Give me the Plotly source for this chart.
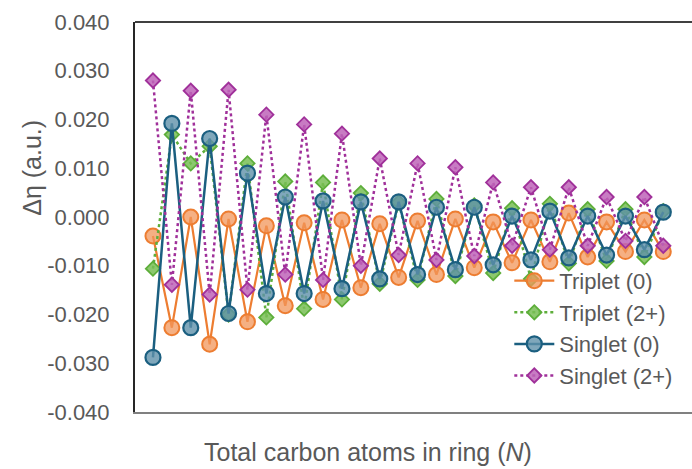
import plotly.graph_objects as go

# ---- data ----
n_atoms = list(range(3, 31))  # 28 ring sizes (x-axis has no tick labels)

triplet0 = [-0.0039, -0.0227, 0.0000, -0.0261, -0.0004, -0.0215, -0.0018, -0.0182,
            -0.0012, -0.0169, -0.0006, -0.0145, -0.0014, -0.0124, -0.0008, -0.0118,
            -0.0004, -0.0104, -0.0010, -0.0094, -0.0006, -0.0092, 0.0008, -0.0082,
            -0.0010, -0.0071, -0.0006, -0.0071]
triplet2 = [-0.0106, 0.0169, 0.0110, 0.0145, -0.0200, 0.0110, -0.0206, 0.0073,
            -0.0188, 0.0071, -0.0169, 0.0049, -0.0137, 0.0030, -0.0129, 0.0037,
            -0.0121, 0.0024, -0.0115, 0.0018, -0.0127, 0.0027, -0.0095, 0.0016,
            -0.0090, 0.0016, -0.0082, 0.0012]
singlet0 = [-0.0288, 0.0192, -0.0227, 0.0161, -0.0198, 0.0090, -0.0157, 0.0041,
            -0.0157, 0.0033, -0.0147, 0.0031, -0.0127, 0.0031, -0.0118, 0.0020,
            -0.0108, 0.0020, -0.0098, 0.0002, -0.0088, 0.0012, -0.0084, 0.0002,
            -0.0078, 0.0002, -0.0067, 0.0010]
singlet2 = [0.0280, -0.0139, 0.0259, -0.0159, 0.0261, -0.0149, 0.0210, -0.0118,
            0.0190, -0.0129, 0.0171, -0.0100, 0.0120, -0.0078, 0.0110, -0.0088,
            0.0102, -0.0080, 0.0071, -0.0059, 0.0061, -0.0067, 0.0061, -0.0059,
            0.0041, -0.0049, 0.0041, -0.0059]

series_names = ["Triplet (0)", "Triplet (2+)", "Singlet (0)", "Singlet (2+)"]
y_tick_vals = [0.04, 0.03, 0.02, 0.01, 0.0, -0.01, -0.02, -0.03, -0.04]
y_tick_text = ["0.040", "0.030", "0.020", "0.010", "0.000",
               "-0.010", "-0.020", "-0.030", "-0.040"]

TEXT = "#595959"
FONT = "Liberation Sans, Arial, sans-serif"

styles = [
    dict(line=dict(color="#ED7D31", width=2.2),
         marker=dict(symbol="circle", size=15, color="rgba(242,150,90,0.75)",
                     line=dict(color="#ED7D31", width=2))),
    dict(line=dict(color="#5DAE3A", width=2.5, dash="dot"),
         marker=dict(symbol="diamond", size=11, color="rgba(120,190,85,0.85)",
                     line=dict(color="#5DAE3A", width=1.8))),
    dict(line=dict(color="#1B5F80", width=2.5),
         marker=dict(symbol="circle", size=15, color="rgba(95,145,170,0.8)",
                     line=dict(color="#1B5F80", width=2.2))),
    dict(line=dict(color="#A0309A", width=2.5, dash="dot"),
         marker=dict(symbol="diamond", size=11, color="rgba(190,100,185,0.85)",
                     line=dict(color="#A0309A", width=1.8))),
]

fig = go.Figure()
for name, vals, st in zip(series_names, [triplet0, triplet2, singlet0, singlet2], styles):
    fig.add_trace(go.Scatter(x=n_atoms, y=vals, mode="lines+markers", name=name,
                             line=st["line"], marker=st["marker"]))

fig.update_layout(
    width=692, height=469,
    margin=dict(l=135, r=0, t=22, b=57),
    paper_bgcolor="white", plot_bgcolor="white",
    font=dict(family=FONT, color=TEXT, size=22),
    showlegend=True,
    legend=dict(x=0.672, y=0.39, xanchor="left", yanchor="top",
                bgcolor="rgba(0,0,0,0)", font=dict(size=22, color=TEXT),
                itemwidth=40),
    xaxis=dict(range=[2.05, 31.52], showticklabels=False, ticks="",
               showgrid=False, zeroline=False,
               showline=True, linecolor="#808080", linewidth=1.5),
    yaxis=dict(range=[-0.04, 0.04], tickvals=y_tick_vals, ticktext=y_tick_text,
               ticks="outside", ticklen=19, tickcolor="rgba(0,0,0,0)",
               showgrid=False, zeroline=False,
               showline=True, linecolor="#262626", linewidth=2,
               tickfont=dict(size=22, color=TEXT)),
    shapes=[dict(type="line", xref="paper", yref="paper", x0=0, x1=1, y0=1, y1=1,
                 line=dict(color="black", width=1.5))],
    annotations=[
        dict(text="Total carbon atoms in ring (<i>N</i>)", xref="paper", yref="paper",
             x=0.418, y=-0.103, xanchor="center", yanchor="middle", showarrow=False,
             font=dict(size=25, color=TEXT)),
        dict(text="Δη (a.u.)", xref="paper", yref="paper", textangle=-90,
             x=-0.185, y=0.626, xanchor="center", yanchor="middle", showarrow=False,
             font=dict(size=25, color=TEXT)),
    ],
)

fig.write_html("out.html")
